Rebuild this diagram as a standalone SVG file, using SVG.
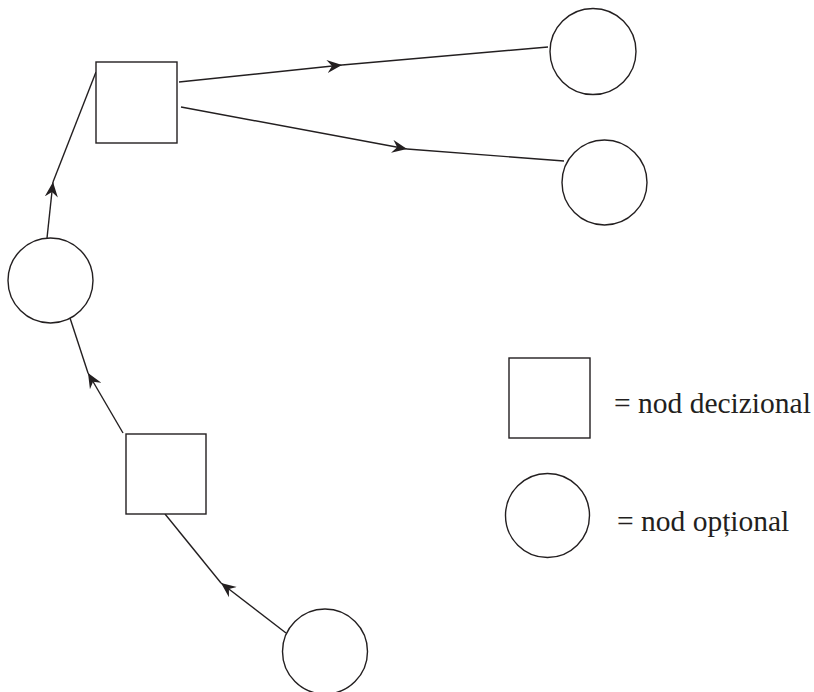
<svg xmlns="http://www.w3.org/2000/svg" width="814" height="692" viewBox="0 0 814 692">
  <style>
    .node { fill: #ffffff; stroke: #231f20; stroke-width: 1.4; }
    .edge { fill: none; stroke: #231f20; stroke-width: 1.4; }
    .label { font-family: "Liberation Serif", "Times New Roman", serif; font-size: 29.5px; fill: #231f20; }
  </style>
  <defs>
    <!-- barbed arrowhead placed at the end of the first leg of each connector -->
    <marker id="arrow" viewBox="-15 -7 16 14" refX="0" refY="0" markerWidth="16" markerHeight="14" markerUnits="userSpaceOnUse" orient="auto">
      <path d="M0,0 L-15,-6.5 L-10,0 L-15,6.5 Z" fill="#231f20"/>
    </marker>
  </defs>

  <rect width="814" height="692" fill="#ffffff"/>

  <g id="connectors">
    <!-- bottom option -> lower decision -->
    <path class="edge" d="M286,633 L221,583" marker-end="url(#arrow)"/>
    <path class="edge" d="M221,583 L165,514"/>
    <!-- lower decision -> middle option -->
    <path class="edge" d="M123,433 L88,373" marker-end="url(#arrow)"/>
    <path class="edge" d="M88,373 L70,318"/>
    <!-- middle option -> upper decision -->
    <path class="edge" d="M47,238 L53,182" marker-end="url(#arrow)"/>
    <path class="edge" d="M53,182 L96,72"/>
    <!-- upper decision -> first branch -->
    <path class="edge" d="M179,82 L342,65" marker-end="url(#arrow)"/>
    <path class="edge" d="M342,65 L548,47"/>
    <!-- upper decision -> second branch -->
    <path class="edge" d="M181,107 L407,149" marker-end="url(#arrow)"/>
    <path class="edge" d="M407,149 L564,161"/>
  </g>

  <g id="decision-top">
    <rect class="node" x="96" y="62" width="81" height="81"/>
  </g>
  <g id="decision-bottom">
    <rect class="node" x="126" y="434" width="80" height="80"/>
  </g>
  <g id="option-left">
    <circle class="node" cx="50.5" cy="280.5" r="42.5"/>
  </g>
  <g id="option-bottom">
    <circle class="node" cx="325" cy="651.5" r="42.5"/>
  </g>
  <g id="option-branch-1">
    <circle class="node" cx="593" cy="51.5" r="43"/>
  </g>
  <g id="option-branch-2">
    <circle class="node" cx="604.5" cy="182.5" r="42.5"/>
  </g>

  <g id="legend">
    <rect class="node" x="509" y="358" width="81" height="80"/>
    <text class="label" x="614" y="413">= nod decizional</text>
    <circle class="node" cx="547.5" cy="515.5" r="42"/>
    <text class="label" x="617" y="531">= nod opțional</text>
  </g>
</svg>
